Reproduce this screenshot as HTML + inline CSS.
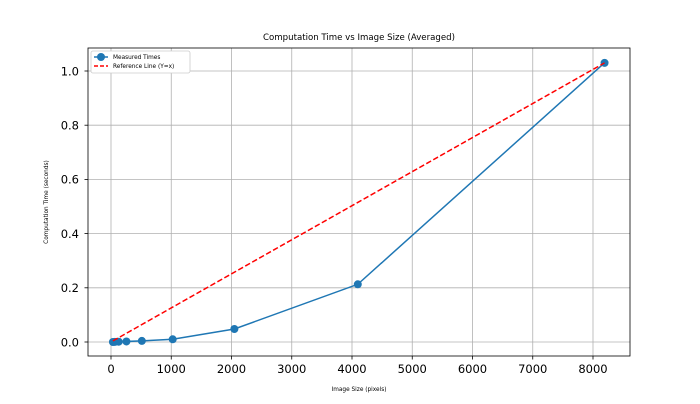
<!DOCTYPE html>
<html><head><meta charset="utf-8"><style>
body{margin:0;background:#fff;font-family:"DejaVu Sans","Liberation Sans",sans-serif}
svg text{font-family:"DejaVu Sans","Liberation Sans",sans-serif}
</style></head><body>
<svg id="c" width="700" height="400" xmlns="http://www.w3.org/2000/svg"></svg>
<script>
const sizes=[32,64,128,256,512,1024,2048,4096,8192];
const times=[0.0,0.0005,0.001,0.002,0.004,0.01,0.048,0.213,1.03];
const xTicks=[0,1000,2000,3000,4000,5000,6000,7000,8000];
const yTicks=[0.0,0.2,0.4,0.6,0.8,1.0];
const L=88,R=630,T=48,B=356;
const X=v=>111+v*(593-111)/8000;
const Y=v=>342-v*(342-71);
const svg=document.getElementById('c');
const NS='http://www.w3.org/2000/svg';
function mk(t,a,txt){const e=document.createElementNS(NS,t);for(const k in a)e.setAttribute(k,a[k]);if(txt!==undefined)e.textContent=txt;svg.appendChild(e);return e;}
xTicks.forEach(v=>{
 const g=mk('line',{x1:X(v),x2:X(v),y1:T,y2:B,stroke:'#b0b0b0','stroke-width':0.8});
 
 
 mk('line',{x1:X(v),x2:X(v),y1:B,y2:B+3.5,stroke:'#000','stroke-width':0.8});
 const t=mk('text',{x:X(v),y:B+17,'font-size':11.5,'text-anchor':'middle'},String(v));
 
 
});
yTicks.forEach(v=>{
 const g=mk('line',{x1:L,x2:R,y1:Y(v),y2:Y(v),stroke:'#b0b0b0','stroke-width':0.8});
 
 
 mk('line',{x1:L-3.5,x2:L,y1:Y(v),y2:Y(v),stroke:'#000','stroke-width':0.8});
 const t=mk('text',{x:L-9,y:Y(v)+4.3,'font-size':11.5,'text-anchor':'end'},v.toFixed(1));
 
 
});
const pts=sizes.map((s,i)=>X(s)+','+Y(times[i])).join(' ');
const ln=mk('polyline',{points:pts,fill:'none',stroke:'#1f77b4','stroke-width':1.5});


sizes.forEach((s,i)=>{
 const c=mk('circle',{cx:X(s),cy:Y(times[i]),r:4,fill:'#1f77b4'});
 
 
});
const k=times[times.length-1]/sizes[sizes.length-1];
const ref=mk('line',{x1:X(sizes[0]),y1:Y(sizes[0]*k),x2:X(sizes[sizes.length-1]),y2:Y(sizes[sizes.length-1]*k),stroke:'#ff0000','stroke-width':1.5,'stroke-dasharray':'5.5,2.5'});


const fr=mk('rect',{x:L,y:T,width:R-L,height:B-T,fill:'none',stroke:'#000','stroke-width':0.8});


const ti=mk('text',{x:359,y:40,'font-size':8.6,'text-anchor':'middle'},'Computation Time vs Image Size (Averaged)');


const xt=mk('text',{x:359,y:391,'font-size':5.8,'text-anchor':'middle'},'Image Size (pixels)');


const yt=mk('text',{x:48,y:202,'font-size':5.8,'text-anchor':'middle',transform:'rotate(-90 48 202)'},'Computation Time (seconds)');


const lg=mk('rect',{x:91,y:51,width:99,height:22,fill:'#fff',stroke:'#ccc','stroke-width':0.8,rx:2});


mk('line',{x1:94,x2:108,y1:57,y2:57,stroke:'#1f77b4','stroke-width':1.5});
mk('circle',{cx:101,cy:57,r:4,fill:'#1f77b4'});
const l1=mk('text',{x:113,y:59,'font-size':5.8},'Measured Times');


mk('line',{x1:94,x2:108,y1:66,y2:66,stroke:'#ff0000','stroke-width':1.5,'stroke-dasharray':'4,2'});
const l2=mk('text',{x:113,y:68,'font-size':5.8},'Reference Line (Y=x)');


</script>
</body></html>
